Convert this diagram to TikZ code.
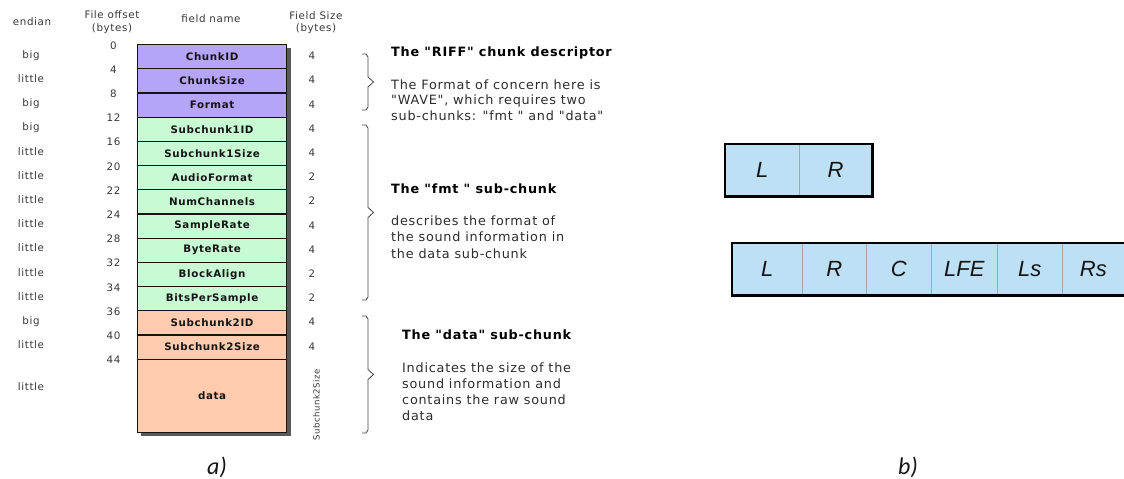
\documentclass[tikz,border=0pt]{standalone}
\usepackage{fontspec}
\setmainfont{Liberation Sans}
\newfontfamily\spaced[LetterSpace=6]{DejaVu Sans}
\newfontfamily\capfont{Carlito}
\definecolor{riff}{RGB}{182,164,246}
\definecolor{fmtc}{RGB}{200,250,212}
\definecolor{datac}{RGB}{255,204,176}
\definecolor{chan}{RGB}{190,224,244}
\definecolor{ink}{RGB}{20,20,20}
% a curly brace: top, bottom
\newcommand\sidebrace[2]{%
  \draw[brace] (362,#1) -- (366,#1) -- (368,{#1+3}) -- (368,{(#1+#2)/2-5})
    -- (373.5,{(#1+#2)/2}) -- (368,{(#1+#2)/2+5}) -- (368,{#2-3}) -- (366,#2) -- (362,#2);}
\begin{document}
\begin{tikzpicture}[x=1pt,y=-1pt,
  field/.style={draw=ink, line width=1.2pt, minimum width=149pt, minimum height=24.2pt,
    anchor=north west, inner sep=0pt, text=ink,
    font=\spaced\bfseries\fontsize{10.3}{12}\selectfont},
  lab/.style={font=\spaced\fontsize{10.3}{12}\selectfont, text=ink!85, inner sep=0pt,
    text height=0.72em, text depth=0pt},
  heading/.style={font=\spaced\bfseries\fontsize{12.8}{15}\selectfont, anchor=base west,
    inner sep=0pt, text=black},
  body/.style={font=\spaced\fontsize{12.8}{15}\selectfont, anchor=base west,
    inner sep=0pt, text=ink!90},
  brace/.style={draw=ink!80, line width=0.8pt},
  cell/.style={draw=gray!70, line width=0.6pt, fill=chan, minimum height=52pt,
    anchor=north west, inner sep=0pt, text=ink,
    font=\itshape\fontsize{22}{26}\selectfont},
  frame/.style={draw=black, line width=2.4pt},
  caption/.style={font=\capfont\itshape\fontsize{24}{28}\selectfont, text=ink}
]
\useasboundingbox (0,0) rectangle (1124,479);

% ---- (a) WAVE header layout ----
\fill[black!65] (141,48) rectangle (291,436);
\foreach \name/\col [count=\i from 0] in {ChunkID/riff, ChunkSize/riff, Format/riff,
    Subchunk1ID/fmtc, Subchunk1Size/fmtc, AudioFormat/fmtc, NumChannels/fmtc,
    SampleRate/fmtc, ByteRate/fmtc, BlockAlign/fmtc, BitsPerSample/fmtc,
    Subchunk2ID/datac, Subchunk2Size/datac}
  \node[field, fill=\col] (f\i) at (137,{44+24.2*\i}) {\name};
\node[field, fill=datac, minimum height=73.4pt] (f13) at (137,358.6) {data};

% column headers
\node[lab] (hEnd) at (32,22) {endian};
\node[lab] (hOff1) at (112,15) {File offset};
\node[lab] (hOff2) at (112,28) {(bytes)};
\node[lab] (hName) at (211,19) {field name};
\node[lab] (hSize1) at (316,16) {Field Size};
\node[lab] (hSize2) at (316,28) {(bytes)};

% byte offsets
\foreach \o [count=\i from 0] in {0,4,8,12,16,20,22,24,28,32,34,36,40,44}
  \node[lab] (o\i) at (113.5,{45.5+24.2*\i}) {\o};
% endianness
\foreach \e [count=\i from 0] in {big,little,big,big,little,little,little,little,
    little,little,little,big,little}
  \node[lab] (e\i) at (31,{54.6+24.2*\i}) {\e};
\node[lab] (e13) at (31,386.7) {little};
% field sizes
\foreach \s [count=\i from 0] in {4,4,4,4,4,2,2,4,4,2,2,4,4}
  \node[lab] (s\i) at (312,{56.1+24.2*\i}) {\s};
\node[lab, rotate=90, font=\spaced\fontsize{8.5}{10}\selectfont] (s13) at (316,405) {Subchunk2Size};

% chunk braces
\sidebrace{54}{110}
\sidebrace{125}{300}
\sidebrace{316}{433}

% chunk descriptions
\node[heading] (riffH) at (391,56) {The "RIFF" chunk descriptor};
\node[body] (riff1) at (391,89) {The Format of concern here is};
\node[body] (riff2) at (391,104.5) {"WAVE", which requires two};
\node[body] (riff3) at (391,120) {sub-chunks: "fmt " and "data"};

\node[heading] (fmtH) at (391,193) {The "fmt " sub-chunk};
\node[body] (fmt1) at (391,225) {describes the format of};
\node[body] (fmt2) at (391,241.5) {the sound information in};
\node[body] (fmt3) at (391,258) {the data sub-chunk};

\node[heading] (dataH) at (402,339) {The "data" sub-chunk};
\node[body] (data1) at (402,372) {Indicates the size of the};
\node[body] (data2) at (402,388) {sound information and};
\node[body] (data3) at (402,404) {contains the raw sound};
\node[body] (data4) at (402,420) {data};

% ---- (b) channel interleaving ----
\node[cell, minimum width=74pt] (a1) at (725,144) {L};
\node[cell, minimum width=72.7pt] (a2) at (799,144) {R};
\draw[frame] (a1.north west) rectangle (a2.south east);

\node[cell, minimum width=70pt] (b1) at (732,242.7) {L};
\node[cell, minimum width=64pt] (b2) at (802,242.7) {R};
\node[cell, minimum width=65pt] (b3) at (866,242.7) {C};
\node[cell, minimum width=66pt] (b4) at (931,242.7) {LFE};
\node[cell, minimum width=65pt] (b5) at (997,242.7) {Ls};
\node[cell, minimum width=62pt] (b6) at (1062,242.7) {Rs};
\draw[frame] (b6.north east) -- (b1.north west) -- (b1.south west) -- (b6.south east);

% captions
\node[caption] (capA) at (217,467) {a)};
\node[caption] (capB) at (908,467) {b)};
\end{tikzpicture}
\end{document}
